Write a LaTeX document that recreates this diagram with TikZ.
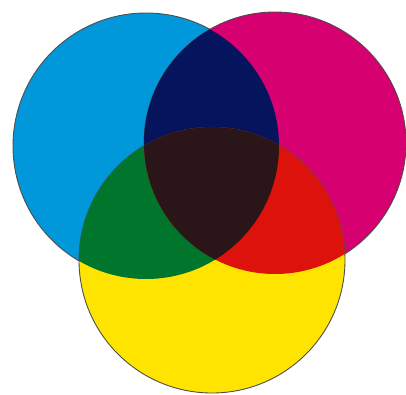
\documentclass[tikz,border=0pt]{standalone}
\usepackage{tikz}
\usepackage[dvipsnames, svgnames]{xcolor}

\definecolor{inkcyan}{RGB}{0,152,218}
\definecolor{inkmagenta}{RGB}{214,0,112}
\definecolor{inkyellow}{RGB}{255,228,0}
\definecolor{inkblue}{RGB}{5,20,92}
\definecolor{inkgreen}{RGB}{0,118,45}
\definecolor{inkred}{RGB}{222,18,12}
\definecolor{inkblack}{RGB}{42,22,24}

\begin{document}
\begin{tikzpicture}[x=0.02cm, y=-0.02cm, rim/.style={draw=black!70, line width=0.5pt}]
    \useasboundingbox (0,0) rectangle (406,395);
    % Centres of the three inks
    \coordinate (cyan) at (146,146);
    \coordinate (magenta) at (275,143);
    \coordinate (yellow) at (212,260);

    % Single inks
    \filldraw[rim, fill=inkcyan] (cyan) circle (133);
    \filldraw[rim, fill=inkmagenta] (magenta) circle (131);
    \filldraw[rim, fill=inkyellow] (yellow) circle (133);

    % Two inks overlapping
    \begin{scope}
        \clip (cyan) circle (133);
        \fill[inkblue] (magenta) circle (131);
    \end{scope}
    \begin{scope}
        \clip (cyan) circle (133);
        \fill[inkgreen] (yellow) circle (133);
    \end{scope}
    \begin{scope}
        \clip (magenta) circle (131);
        \fill[inkred] (yellow) circle (133);
    \end{scope}

    % All three inks
    \begin{scope}
        \clip (cyan) circle (133);
        \clip (magenta) circle (131);
        \fill[inkblack] (yellow) circle (133);
    \end{scope}
\end{tikzpicture}
\end{document}
